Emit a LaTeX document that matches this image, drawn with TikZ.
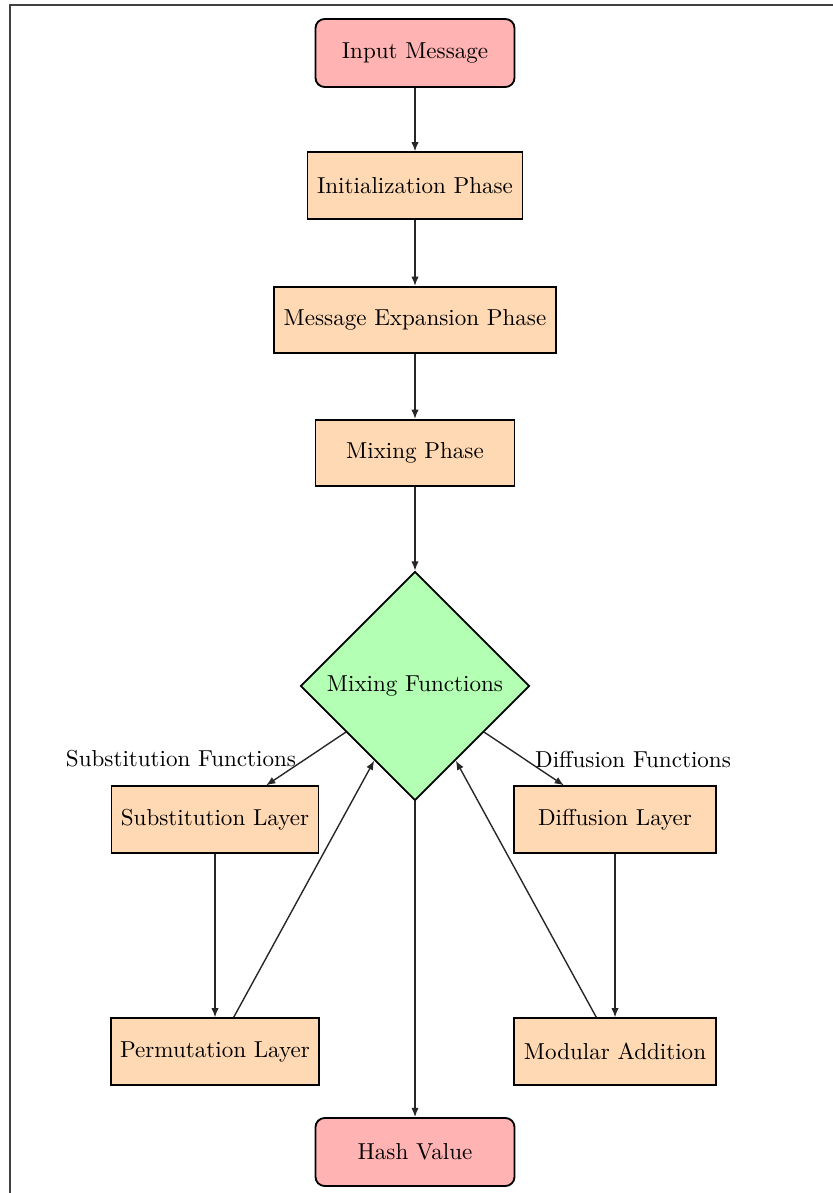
\documentclass[tikz,border=0pt]{standalone}
\usetikzlibrary{shapes.geometric,arrows.meta}

\definecolor{termfill}{RGB}{255,179,179}
\definecolor{stepfill}{RGB}{255,217,179}
\definecolor{decfill}{RGB}{179,255,179}

\tikzset{
  stepbox/.style={rectangle, draw=black, thick, fill=stepfill,
    minimum height=28.8pt, inner sep=3.3pt},
  termbox/.style={rectangle, rounded corners=4pt, draw=black, thick,
    fill=termfill, minimum width=86.3pt, minimum height=29.5pt},
  decbox/.style={diamond, draw=black, thick, fill=decfill,
    minimum width=99.3pt, minimum height=99.3pt, inner sep=0pt},
  flow/.style={-{Latex[length=4pt,width=3.2pt]}, semithick, draw=black!85},
  frameline/.style={line width=0.65pt, draw=black!75}
}

\begin{document}
\begin{tikzpicture}[x=0.4336pt, y=-0.4336pt]
  \useasboundingbox (0,0) rectangle (833,1193);

  % outer frame (top and left edges)
  \draw[frameline] (833,5) -- (10,5) -- (10,1193);

  % main column
  \node[termbox] (input) at (415,53) {Input Message};
  \node[stepbox, minimum width=93.2pt] (init) at (415,185.5) {Initialization Phase};
  \node[stepbox, minimum width=122.3pt] (expand) at (415,320) {Message Expansion Phase};
  \node[stepbox, minimum width=86.3pt] (mixphase) at (415,453) {Mixing Phase};
  \node[decbox] (mixfun) at (415,686) {Mixing Functions};
  \node[termbox] (hash) at (415,1152) {Hash Value};

  % substitution branch
  \node[stepbox, minimum width=89.8pt] (subst) at (215,819.5) {Substitution Layer};
  \node[stepbox, minimum width=90.2pt] (perm) at (215,1051.5) {Permutation Layer};

  % diffusion branch
  \node[stepbox, minimum width=87.6pt] (diff) at (615,819.5) {Diffusion Layer};
  \node[stepbox, minimum width=87.6pt] (modadd) at (615,1051.5) {Modular Addition};

  % branch labels
  \node (sublabel) at (181,759) {Substitution Functions};
  \node (difflabel) at (633,759) {Diffusion Functions};

  % connectors
  \draw[flow] (input) -- (init);
  \draw[flow] (init) -- (expand);
  \draw[flow] (expand) -- (mixphase);
  \draw[flow] (mixphase) -- (mixfun);
  \draw[flow] (mixfun) -- (subst);
  \draw[flow] (mixfun) -- (diff);
  \draw[flow] (subst) -- (perm);
  \draw[flow] (diff) -- (modadd);
  \draw[flow] (perm) -- (mixfun);
  \draw[flow] (modadd) -- (mixfun);
  \draw[flow] (mixfun) -- (hash);
\end{tikzpicture}
\end{document}
